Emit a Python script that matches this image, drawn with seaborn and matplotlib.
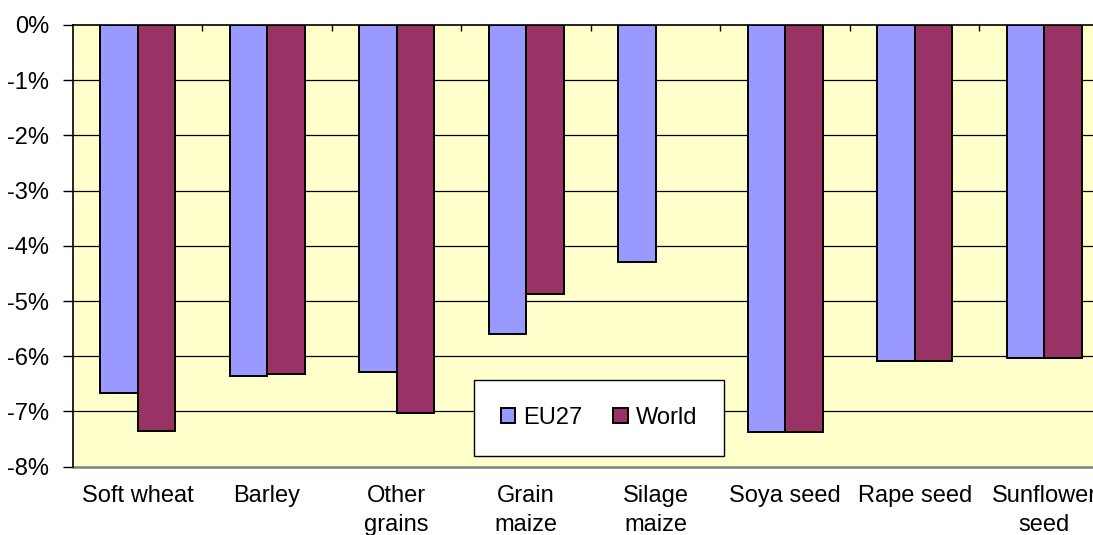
import numpy as np
import pandas as pd
import matplotlib
matplotlib.use("Agg")
import matplotlib.pyplot as plt
import seaborn as sns

# ── Data ───────────────────────────────────────────────
crops = ["Soft wheat", "Barley", "Other\ngrains", "Grain\nmaize", "Silage\nmaize",
         "Soya seed", "Rape seed", "Sunflower\nseed"]
eu27 = [-6.67, -6.35, -6.28, -5.60, -4.30, -7.38, -6.08, -6.04]
world = [-7.36, -6.32, -7.02, -4.88, np.nan, -7.38, -6.08, -6.04]
series = ["EU27", "World"]
colors = ["#9999FF", "#993366"]
y_ticks = [0, -1, -2, -3, -4, -5, -6, -7, -8]
y_labels = ["0%", "-1%", "-2%", "-3%", "-4%", "-5%", "-6%", "-7%", "-8%"]

df = pd.DataFrame({
    "crop": crops * 2,
    "series": [series[0]] * len(crops) + [series[1]] * len(crops),
    "change": eu27 + world,
}).dropna()

sns.set_style("white", {"text.color": "black", "xtick.color": "black",
                        "ytick.color": "black"})
plt.rcParams["font.family"] = ["Liberation Sans", "DejaVu Sans"]
plt.rcParams["axes.unicode_minus"] = False

fig = plt.figure(figsize=(10.93, 5.35), dpi=100)
ax = fig.add_axes([0.0666, 0.1277, 0.948, 0.8256])
ax.set_facecolor("#FFFFCC")

sns.barplot(
    data=df, x="crop", y="change", hue="series",
    order=crops, hue_order=series, palette=colors, saturation=1,
    width=0.58, gap=0, edgecolor="black", linewidth=1.4,
    errorbar=None, ax=ax, zorder=3,
)

ax.set_xlim(-0.5, 7.5)
ax.set_ylim(-8, 0)
ax.set_yticks(y_ticks)
ax.set_yticklabels(y_labels, fontsize=17)
ax.set_xticks(range(len(crops)))
ax.set_xticklabels(crops, fontsize=17, linespacing=1.45)
ax.set_xlabel("")
ax.set_ylabel("")

for y in y_ticks[1:-1]:
    ax.axhline(y, color="black", lw=0.9, zorder=1)

ax.tick_params(axis="y", direction="out", length=7, width=1, pad=10, left=True)
ax.tick_params(axis="x", which="major", length=0, pad=13)
ax.set_xticks(np.arange(0.5, 7.5, 1.0), minor=True)
ax.tick_params(axis="x", which="minor", top=True, bottom=False,
               direction="in", length=4, width=1)

for side in ["left", "top"]:
    ax.spines[side].set_color("black")
    ax.spines[side].set_linewidth(1.2)
    ax.spines[side].set_zorder(4)
ax.spines["bottom"].set_color("#808080")
ax.spines["bottom"].set_linewidth(1.8)
ax.spines["right"].set_visible(False)

handles, labels = ax.get_legend_handles_labels()
leg = ax.legend(
    handles, labels, loc="center", bbox_to_anchor=(0.508, 0.11),
    ncol=2, fontsize=17, frameon=True, fancybox=False, framealpha=1,
    edgecolor="black", handlelength=0.6, handleheight=0.6,
    handletextpad=0.35, columnspacing=1.3, borderpad=1.15, borderaxespad=0,
)
leg.get_frame().set_linewidth(1.0)
leg.set_zorder(5)

fig.savefig("out.png", dpi=100)
